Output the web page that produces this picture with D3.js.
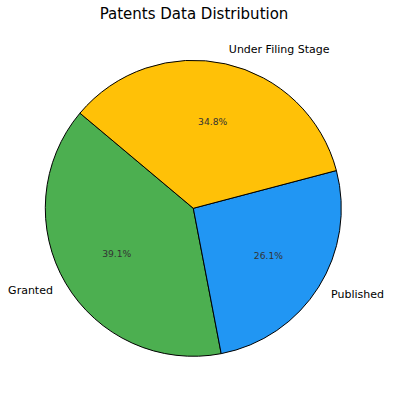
<!DOCTYPE html>
<html>
<head>
<meta charset="utf-8">
<script src="https://cdn.jsdelivr.net/npm/d3@7"></script>
<style>
  html, body { margin: 0; padding: 0; background: #fff; }
  svg { display: block; font-family: "DejaVu Sans", sans-serif; }
</style>
</head>
<body>
<svg id="chart" width="393" height="400"></svg>
<script>
const categories = ["Granted", "Published", "Under Filing Stage"];
const values = [9, 6, 8];
const colors = ["#4CAF50", "#2196F3", "#FFC107"];
const title = "Patents Data Distribution";

const svg = d3.select("#chart");
const cx = 193.3, cy = 208.3, r = 148;
const startDeg = 140;

svg.append("text")
  .attr("x", 194).attr("y", 19)
  .attr("text-anchor", "middle")
  .attr("font-size", 15)
  .attr("fill", "#000")
  .text(title);

const total = d3.sum(values);
// matplotlib counterclockwise; convert to d3 (clockwise from 12 o'clock)
const toD3 = deg => (90 - deg) * Math.PI / 180;
const pie = d3.pie().sort(null).value(d => d)
  .startAngle(toD3(startDeg)).endAngle(toD3(startDeg) - 2 * Math.PI);
const arcs = pie(values);
const arc = d3.arc().innerRadius(0).outerRadius(r);

const g = svg.append("g").attr("transform", `translate(${cx},${cy})`);
g.selectAll("path").data(arcs).join("path")
  .attr("d", arc)
  .attr("fill", (d, i) => colors[i])
  .attr("stroke", "#000")
  .attr("stroke-width", 1)
  .attr("stroke-linejoin", "round");

const mid = d => (d.startAngle + d.endAngle) / 2;
// percentages
g.selectAll("text.pct").data(arcs).join("text")
  .attr("class", "pct")
  .attr("x", d => Math.sin(mid(d)) * r * 0.6)
  .attr("y", d => -Math.cos(mid(d)) * r * 0.6)
  .attr("text-anchor", "middle")
  .attr("dominant-baseline", "central")
  .attr("font-size", 9.2)
  .attr("fill", "#333")
  .text(d => (d.value / total * 100).toFixed(1) + "%");

// labels
g.selectAll("text.lbl").data(arcs).join("text")
  .attr("class", "lbl")
  .attr("x", d => Math.sin(mid(d)) * r * 1.1)
  .attr("y", d => -Math.cos(mid(d)) * r * 1.1)
  .attr("text-anchor", d => Math.sin(mid(d)) >= 0 ? "start" : "end")
  .attr("dominant-baseline", "central")
  .attr("font-size", 11)
  .attr("fill", "#000")
  .text((d, i) => categories[i]);
</script>
</body>
</html>
